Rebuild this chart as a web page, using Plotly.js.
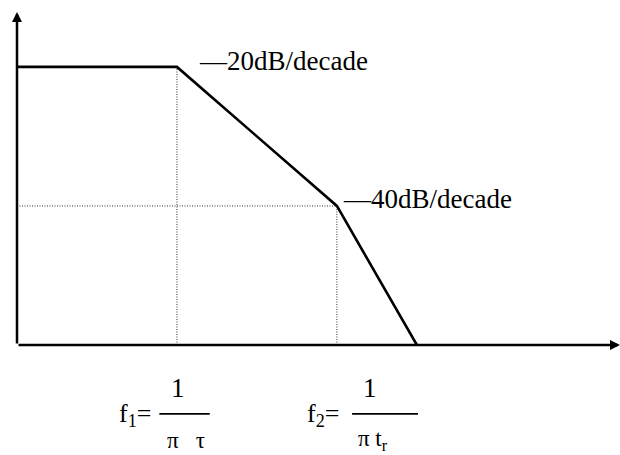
<!DOCTYPE html>
<html>
<head>
<meta charset="utf-8">
<script src="https://cdn.plot.ly/plotly-3.0.1.min.js"></script>
<style>
  html, body { margin: 0; padding: 0; background: #fff; }
  #chart { width: 620px; height: 455px; }
</style>
</head>
<body>
<div id="chart"></div>
<script>
// asymptotic gain curve, x in decades of frequency, y in dB
var logFreq = [0, 1, 2, 2.5];
var gainDb = [40, 40, 20, 0];
var slopeLabels = ['—20dB/decade', '—40dB/decade'];
var numerators = ['1', '1'];
var freqNames = ['f<sub>1</sub>=', 'f<sub>2</sub>='];
var denominators = ['π   τ', 'π t<sub>r</sub>'];

var xMax = 3.77;
var yMax = 47.9;
var serif = '"Liberation Serif", serif';

var f1 = logFreq[1], f2 = logFreq[2];
var g1 = gainDb[1], g2 = gainDb[2];

var curve = {
  x: logFreq,
  y: gainDb,
  mode: 'lines',
  line: {color: '#000', width: 2.6},
  cliponaxis: false,
  hoverinfo: 'skip'
};

var guide = function(xs, ys) {
  return {
    x: xs, y: ys,
    mode: 'lines',
    line: {color: '#333', width: 1, dash: '1px,1.5px'},
    hoverinfo: 'skip'
  };
};

var traces = [
  guide([f1, f1], [0, g1]),
  guide([f2, f2], [0, g2]),
  guide([0, f2], [g2, g2]),
  curve
];

var annotations = [
  // axes with arrow heads
  {x: xMax, y: 0, ax: 0, ay: 0, axref: 'x', ayref: 'y', text: '',
   showarrow: true, arrowhead: 2, arrowsize: 0.8, arrowwidth: 2.5, arrowcolor: '#000'},
  {x: 0, y: yMax, ax: 0, ay: 0, axref: 'x', ayref: 'y', text: '',
   showarrow: true, arrowhead: 2, arrowsize: 0.8, arrowwidth: 2.5, arrowcolor: '#000'},
  // slope labels
  {x: f1, y: g1, text: slopeLabels[0], showarrow: false, xanchor: 'left',
   xshift: 20, yshift: 6, font: {family: serif, size: 27, color: '#000'}},
  {x: f2, y: g2, text: slopeLabels[1], showarrow: false, xanchor: 'left',
   xshift: 4, yshift: 7, font: {family: serif, size: 27, color: '#000'}}
];

// corner frequency formulas under the axis
var corners = [f1, f2];
var offsets = [
  {num: 1, name: -42, den: 9},
  {num: 33, name: -14, den: 36}
];
corners.forEach(function(fc, i) {
  var o = offsets[i];
  annotations.push({x: fc, y: 0, text: numerators[i], showarrow: false,
    xshift: o.num, yshift: -43, font: {family: serif, size: 27, color: '#000'}});
  annotations.push({x: fc, y: 0, text: freqNames[i], showarrow: false,
    xshift: o.name, yshift: -70, font: {family: serif, size: 26, color: '#000'}});
  annotations.push({x: fc, y: 0, text: denominators[i], showarrow: false,
    xshift: o.den, yshift: -95, borderpad: 0,
    font: {family: serif, size: 23, color: '#000'}});
});
var shapes = [
  {type: 'line', xref: 'x', yref: 'paper', x0: f1 - 0.11, x1: f1 + 0.205,
   y0: -0.207, y1: -0.207, line: {color: '#000', width: 1.8}},
  {type: 'line', xref: 'x', yref: 'paper', x0: f2 + 0.095, x1: f2 + 0.507,
   y0: -0.207, y1: -0.207, line: {color: '#000', width: 1.8}}
];

var layout = {
  width: 620,
  height: 455,
  margin: {l: 17, r: 0, t: 12, b: 110},
  paper_bgcolor: '#fff',
  plot_bgcolor: '#fff',
  showlegend: false,
  font: {family: serif, color: '#000'},
  xaxis: {range: [0, xMax], showgrid: false, zeroline: false, showline: false,
    showticklabels: false, ticks: '', fixedrange: true},
  yaxis: {range: [0, yMax], showgrid: false, zeroline: false, showline: false,
    showticklabels: false, ticks: '', fixedrange: true},
  annotations: annotations,
  shapes: shapes
};

Plotly.newPlot('chart', traces, layout, {displayModeBar: false, staticPlot: true});
</script>
</body>
</html>
